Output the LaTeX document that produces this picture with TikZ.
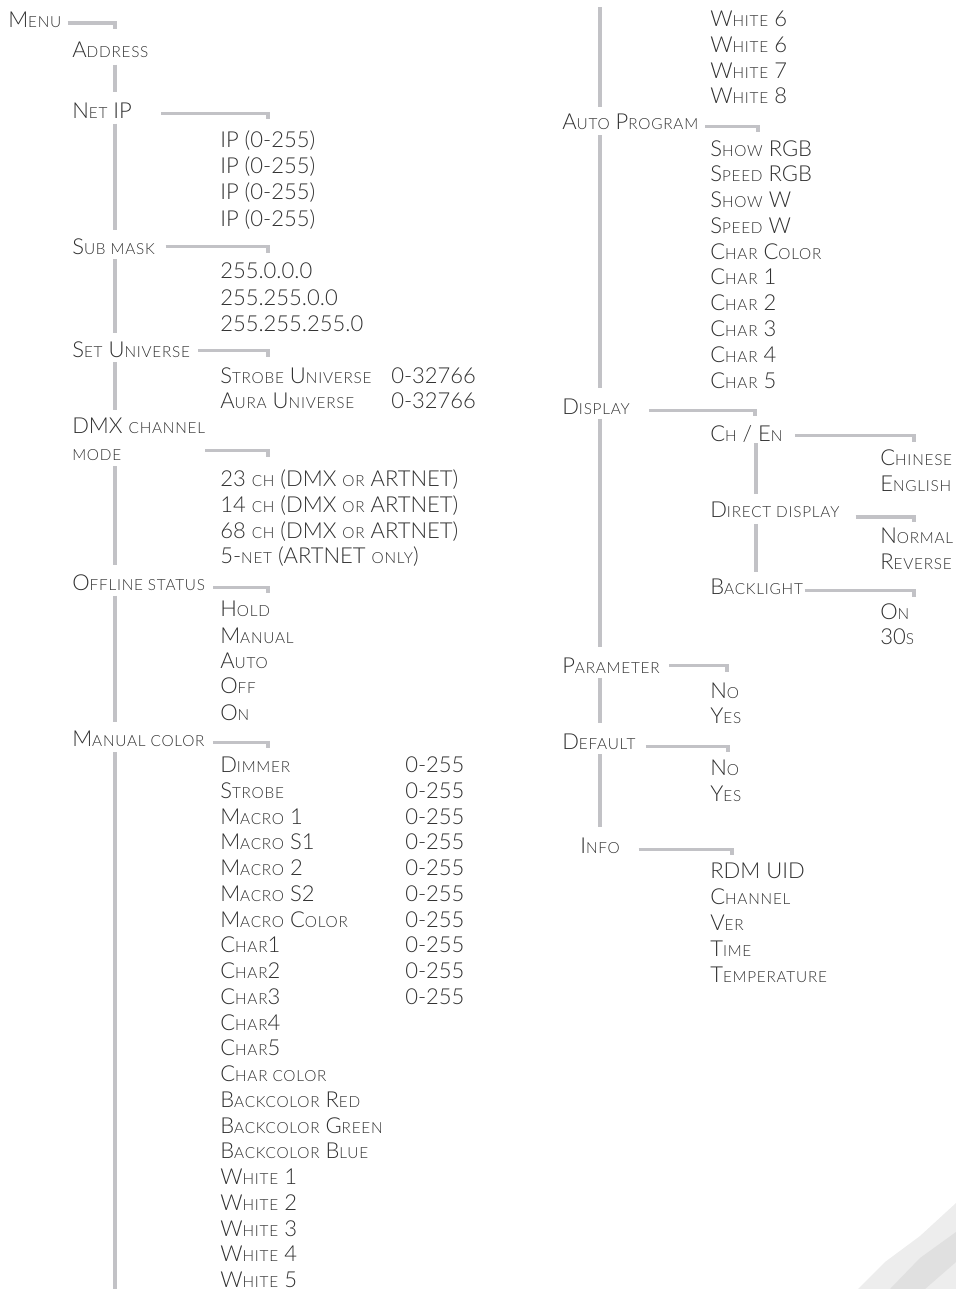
\documentclass[tikz,border=0pt]{standalone}
\usepackage{fontspec}
\IfFontExistsTF{Lato Light}{\setmainfont{Lato Light}}{\setmainfont{Lato}}
\definecolor{txtgray}{HTML}{303030}
\definecolor{linegray}{HTML}{C2C2C6}
\newcommand\sm[1]{{\fontsize{11.5}{12}\selectfont\addfontfeature{LetterSpace=5}\MakeUppercase{#1}}}

\begin{document}
\begin{tikzpicture}[x=0.75pt, y=-0.75pt,
    item/.style={anchor=west, inner sep=0pt, text height=12pt, text depth=0pt, text=txtgray, font=\fontsize{16.5}{18}\selectfont},
    link/.style={draw=linegray, line width=2.4pt}]
        \useasboundingbox (0,0) rectangle (956,1289);
        \fill[gray!14] (858,1289) -- (885,1262) -- (920,1236) -- (956,1203) -- (956,1289) -- cycle;
        \fill[gray!24] (890,1289) -- (920,1258) -- (956,1232) -- (956,1262) -- (925,1289) -- cycle;
        \coordinate (spL) at (115,0);
        \coordinate (spR) at (600,0);
        \coordinate (spD) at (756,0);
        \coordinate (topR) at (600,7);
        \coordinate (botL) at (115,1289);
        % left column
        \node[item] (menu) at (8,19) {M\sm{enu}};
        \node[item] (addr) at (72,49) {A\sm{ddress}};
        \node[item] (netip) at (72,110) {N\sm{et} IP};
        \node[item] (ip1) at (220,139) {IP (0-255)};
        \node[item] (ip2) at (220,165.5) {IP (0-255)};
        \node[item] (ip3) at (220,191.5) {IP (0-255)};
        \node[item] (ip4) at (220,218) {IP (0-255)};
        \node[item] (sub) at (72,246.5) {S\sm{ub mask}};
        \node[item] (sm1) at (220,270.5) {255.0.0.0};
        \node[item] (sm2) at (220,297) {255.255.0.0};
        \node[item] (sm3) at (220,323) {255.255.255.0};
        \node[item] (setu) at (72,349.5) {S\sm{et} U\sm{niverse}};
        \node[item] (su1) at (220,375.5) {S\sm{trobe} U\sm{niverse}};
        \node[item] (su2) at (220,400) {A\sm{ura} U\sm{niverse}};
        \node[item] (suv1) at (391,375.5) {0-32766};
        \node[item] (suv2) at (391,400) {0-32766};
        \node[item] (dmx) at (72,425) {DMX \sm{channel}};
        \node[item] (mode) at (72,452) {\sm{mode}};
        \node[item] (ch1) at (220,478.5) {23 \sm{ch} (DMX \sm{or} ARTNET)};
        \node[item] (ch2) at (220,504.5) {14 \sm{ch} (DMX \sm{or} ARTNET)};
        \node[item] (ch3) at (220,530) {68 \sm{ch} (DMX \sm{or} ARTNET)};
        \node[item] (ch4) at (220,555) {5-\sm{net} (ARTNET \sm{only})};
        \node[item] (off) at (72,582) {O\sm{ffline status}};
        \node[item] (os1) at (220,608.5) {H\sm{old}};
        \node[item] (os2) at (220,635) {M\sm{anual}};
        \node[item] (os3) at (220,660.5) {A\sm{uto}};
        \node[item] (os4) at (220,685.5) {O\sm{ff}};
        \node[item] (os5) at (220,712) {O\sm{n}};
        \node[item] (manc) at (72,738) {M\sm{anual color}};
        \node[item] (mc1) at (220,764.5) {D\sm{immer}};
        \node[item] (mc2) at (220,790.25) {S\sm{trobe}};
        \node[item] (mc3) at (220,816) {M\sm{acro} 1};
        \node[item] (mc4) at (220,841.75) {M\sm{acro} S1};
        \node[item] (mc5) at (220,867.5) {M\sm{acro} 2};
        \node[item] (mc6) at (220,893.25) {M\sm{acro} S2};
        \node[item] (mc7) at (220,919) {M\sm{acro} C\sm{olor}};
        \node[item] (mc8) at (220,944.75) {C\sm{har}1};
        \node[item] (mc9) at (220,970.5) {C\sm{har}2};
        \node[item] (mc10) at (220,996.25) {C\sm{har}3};
        \node[item] (mc11) at (220,1022) {C\sm{har}4};
        \node[item] (mc12) at (220,1047.75) {C\sm{har}5};
        \node[item] (mc13) at (220,1073.5) {C\sm{har color}};
        \node[item] (mc14) at (220,1099.25) {B\sm{ackcolor} R\sm{ed}};
        \node[item] (mc15) at (220,1125) {B\sm{ackcolor} G\sm{reen}};
        \node[item] (mc16) at (220,1150.75) {B\sm{ackcolor} B\sm{lue}};
        \node[item] (mc17) at (220,1176.5) {W\sm{hite} 1};
        \node[item] (mc18) at (220,1202.25) {W\sm{hite} 2};
        \node[item] (mc19) at (220,1228) {W\sm{hite} 3};
        \node[item] (mc20) at (220,1253.75) {W\sm{hite} 4};
        \node[item] (mc21) at (220,1279) {W\sm{hite} 5};
        \node[item] (mv1) at (405,764.5) {0-255};
        \node[item] (mv2) at (405,790.25) {0-255};
        \node[item] (mv3) at (405,816) {0-255};
        \node[item] (mv4) at (405,841.75) {0-255};
        \node[item] (mv5) at (405,867.5) {0-255};
        \node[item] (mv6) at (405,893.25) {0-255};
        \node[item] (mv7) at (405,919) {0-255};
        \node[item] (mv8) at (405,944.75) {0-255};
        \node[item] (mv9) at (405,970.5) {0-255};
        \node[item] (mv10) at (405,996.25) {0-255};
        % right column
        \node[item] (wr1) at (710,18) {W\sm{hite} 6};
        \node[item] (wr2) at (710,44.5) {W\sm{hite} 6};
        \node[item] (wr3) at (710,70) {W\sm{hite} 7};
        \node[item] (wr4) at (710,95) {W\sm{hite} 8};
        \node[item] (auto) at (562,121.5) {A\sm{uto} P\sm{rogram}};
        \node[item] (ap1) at (710,148) {S\sm{how} RGB};
        \node[item] (ap2) at (710,173.8) {S\sm{peed} RGB};
        \node[item] (ap3) at (710,199.6) {S\sm{how} W};
        \node[item] (ap4) at (710,225.3) {S\sm{peed} W};
        \node[item] (ap5) at (710,251.1) {C\sm{har} C\sm{olor}};
        \node[item] (ap6) at (710,276.9) {C\sm{har} 1};
        \node[item] (ap7) at (710,302.7) {C\sm{har} 2};
        \node[item] (ap8) at (710,328.4) {C\sm{har} 3};
        \node[item] (ap9) at (710,354.2) {C\sm{har} 4};
        \node[item] (ap10) at (710,380) {C\sm{har} 5};
        \node[item] (disp) at (562,406.5) {D\sm{isplay}};
        \node[item] (chen) at (710,433.5) {C\sm{h} / E\sm{n}};
        \node[item] (cn1) at (880,457.5) {C\sm{hinese}};
        \node[item] (cn2) at (880,483) {E\sm{nglish}};
        \node[item] (direct) at (710,509) {D\sm{irect display}};
        \node[item] (dd1) at (880,535.5) {N\sm{ormal}};
        \node[item] (dd2) at (880,561) {R\sm{everse}};
        \node[item] (back) at (710,586.7) {B\sm{acklight}};
        \node[item] (bl1) at (880,611.7) {O\sm{n}};
        \node[item] (bl2) at (880,636.7) {30\sm{s}};
        \node[item] (param) at (562,665.5) {P\sm{arameter}};
        \node[item] (pa1) at (710,690) {N\sm{o}};
        \node[item] (pa2) at (710,715) {Y\sm{es}};
        \node[item] (deflt) at (562,741.5) {D\sm{efault}};
        \node[item] (df1) at (710,767) {N\sm{o}};
        \node[item] (df2) at (710,793) {Y\sm{es}};
        \node[item] (info) at (580,845) {I\sm{nfo}};
        \node[item] (in1) at (710,870) {RDM UID};
        \node[item] (in2) at (710,896) {C\sm{hannel}};
        \node[item] (in3) at (710,922.5) {V\sm{er}};
        \node[item] (in4) at (710,948) {T\sm{ime}};
        \node[item] (in5) at (710,974) {T\sm{emperature}};
        % branch corners
        \coordinate (menuK) at (115,29);
        \coordinate (netK) at (268,119);
        \coordinate (subK) at (268,253);
        \coordinate (setK) at (268,357);
        \coordinate (modeK) at (268,457);
        \coordinate (offK) at (268,593);
        \coordinate (mancK) at (268,748);
        \coordinate (autoK) at (758,132);
        \coordinate (dispK) at (755,416);
        \coordinate (chenK) at (914,442);
        \coordinate (directK) at (914,522);
        \coordinate (backK) at (914,597);
        \coordinate (paramK) at (727,672);
        \coordinate (defltK) at (728,752);
        \coordinate (infoK) at (732,855);
        \draw[link] ([xshift=4.5pt, yshift=-3pt]menu.east) -| (menuK);
        \draw[link] ([xshift=22pt, yshift=-2.5pt]netip.east) -| (netK);
        \draw[link] ([xshift=8pt]sub.east) -| (subK);
        \draw[link] ([xshift=6pt, yshift=-1pt]setu.east) -| (setK);
        \draw[link] ([yshift=1pt]mode.east -| dmx.east) -| (modeK);
        \draw[link] ([xshift=6pt, yshift=-4.3pt]off.east) -| (offK);
        \draw[link] ([xshift=6pt, yshift=-3.4pt]manc.east) -| (mancK);
        \draw[link] ([xshift=5pt, yshift=-4pt]auto.east) -| (autoK);
        \draw[link] ([xshift=14pt, yshift=-3pt]disp.east) -| (dispK);
        \draw[link] ([xshift=9pt, yshift=-1.5pt]chen.east) -| (chenK);
        \draw[link] ([xshift=12pt, yshift=-6pt]direct.east) -| (directK);
        \draw[link] ([xshift=1pt, yshift=-3pt]back.east) -| (backK);
        \draw[link] ([xshift=7pt]param.east) -| (paramK);
        \draw[link] ([xshift=7.5pt, yshift=-4pt]deflt.east) -| (defltK);
        \draw[link] ([xshift=14pt, yshift=-3.2pt]info.east) -| (infoK);
        % spines
        \draw[link] ([yshift=-5.5pt]addr.south -| spL) -- ([yshift=7pt]netip.north -| spL);
        \draw[link] ([yshift=-4pt]netip.south -| spL) -- ([yshift=6.5pt]sub.north -| spL);
        \draw[link] ([yshift=-3pt]sub.south -| spL) -- ([yshift=6.5pt]setu.north -| spL);
        \draw[link] ([yshift=-3.5pt]setu.south -| spL) -- ([yshift=5pt]dmx.north -| spL);
        \draw[link] ([yshift=-4.5pt]mode.south -| spL) -- ([yshift=6.5pt]off.north -| spL);
        \draw[link] ([yshift=-4pt]off.south -| spL) -- ([yshift=6pt]manc.north -| spL);
        \draw[link] ([yshift=-4.5pt]manc.south -| spL) -- (botL);
        \draw[link] (topR) -- ([yshift=5pt]auto.north -| spR);
        \draw[link] ([yshift=-4pt]auto.south -| spR) -- ([yshift=8pt]disp.north -| spR);
        \draw[link] ([yshift=-3pt]disp.south -| spR) -- ([yshift=8pt]param.north -| spR);
        \draw[link] ([yshift=-3pt]param.south -| spR) -- ([yshift=8pt]deflt.north -| spR);
        \draw[link] ([yshift=-3.5pt]deflt.south -| spR) -- ([yshift=7.5pt]info.north -| spR);
        \draw[link] ([yshift=-1pt]chen.south -| spD) -- ([yshift=5pt]direct.north -| spD);
        \draw[link] ([yshift=-5pt]direct.south -| spD) -- ([yshift=5pt]back.north -| spD);
    \end{tikzpicture}
\end{document}
